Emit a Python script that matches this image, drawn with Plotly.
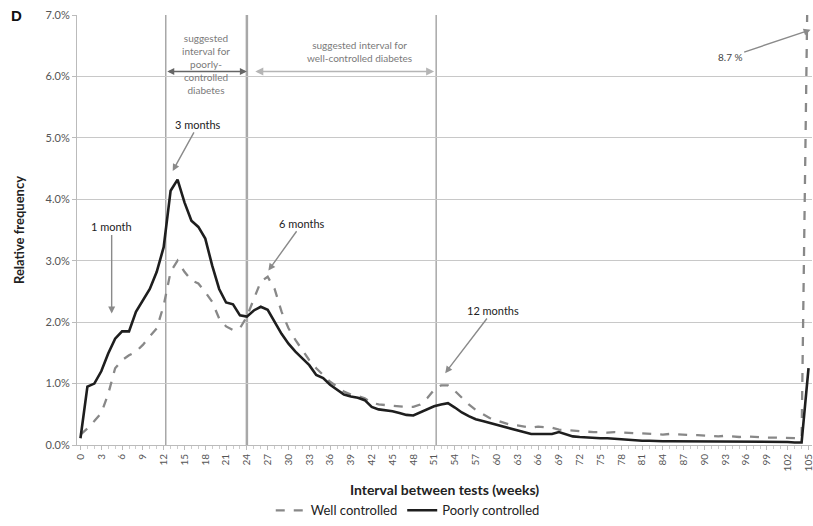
import plotly.graph_objects as go

weeks = list(range(0, 106))
tick_weeks = list(range(0, 106, 3))

well_controlled = [
    0.17, 0.27, 0.39, 0.52, 0.83, 1.25, 1.38, 1.46, 1.52, 1.63,
    1.77, 1.90, 2.27, 2.82, 3.00, 2.82, 2.68, 2.63, 2.49, 2.33,
    2.06, 1.93, 1.87, 1.90, 2.09, 2.38, 2.66, 2.74, 2.54, 2.17,
    1.90, 1.71, 1.54, 1.38, 1.25, 1.14, 1.03, 0.95, 0.87, 0.82,
    0.80, 0.76, 0.69, 0.66, 0.65, 0.64, 0.62, 0.62, 0.62, 0.66,
    0.76, 0.90, 0.97, 0.97, 0.88, 0.77, 0.66, 0.57, 0.50, 0.44,
    0.40, 0.36, 0.33, 0.32, 0.30, 0.28, 0.30, 0.29, 0.28, 0.25,
    0.24, 0.23, 0.22, 0.22, 0.21, 0.21, 0.20, 0.21, 0.20, 0.20,
    0.19, 0.19, 0.18, 0.18, 0.17, 0.18, 0.17, 0.16, 0.16, 0.16,
    0.15, 0.15, 0.14, 0.15, 0.14, 0.13, 0.14, 0.13, 0.13, 0.12,
    0.12, 0.12, 0.11, 0.11, 0.11, 8.70,
]

poorly_controlled = [
    0.11, 0.95, 1.00, 1.20, 1.49, 1.73, 1.85, 1.85, 2.17, 2.35,
    2.54, 2.82, 3.22, 4.14, 4.32, 3.95, 3.65, 3.55, 3.36, 2.92,
    2.54, 2.32, 2.29, 2.11, 2.09, 2.19, 2.25, 2.20, 2.00, 1.81,
    1.65, 1.52, 1.41, 1.30, 1.14, 1.09, 0.98, 0.90, 0.82, 0.79,
    0.77, 0.73, 0.62, 0.58, 0.57, 0.55, 0.52, 0.49, 0.48, 0.53,
    0.59, 0.63, 0.66, 0.68, 0.61, 0.53, 0.47, 0.42, 0.39, 0.36,
    0.32, 0.29, 0.27, 0.23, 0.20, 0.18, 0.18, 0.18, 0.18, 0.21,
    0.17, 0.14, 0.13, 0.12, 0.12, 0.11, 0.11, 0.10, 0.10, 0.09,
    0.07, 0.07, 0.07, 0.06, 0.06, 0.06, 0.06, 0.06, 0.06, 0.06,
    0.06, 0.06, 0.05, 0.06, 0.05, 0.05, 0.05, 0.05, 0.05, 0.05,
    0.05, 0.05, 0.05, 0.04, 0.04, 1.25,
]

y_ticks = [0, 1, 2, 3, 4, 5, 6, 7]
y_tick_labels = ["0.0%", "1.0%", "2.0%", "3.0%", "4.0%", "5.0%", "6.0%", "7.0%"]

FONT = "Lato, 'Open Sans', sans-serif"

fig = go.Figure()
fig.add_trace(go.Scatter(
    x=weeks, y=well_controlled, mode="lines", name="Well controlled",
    line=dict(color="#888888", width=2.3, dash="dash"),
))
fig.add_trace(go.Scatter(
    x=weeks, y=poorly_controlled, mode="lines", name="Poorly controlled",
    line=dict(color="#1e1e1e", width=2.6),
))

# vertical reference lines
for xv, w in [(12.3, 1.5), (24.0, 2.5), (51.3, 1.5)]:
    fig.add_shape(type="line", xref="x", yref="y", x0=xv, x1=xv, y0=0, y1=7,
                  line=dict(color="#a8a8a8", width=w), layer="below")

ann_gray = "#7a7a7a"
annotations = [
    dict(text="<b>D</b>", xref="paper", yref="paper", x=-0.092, y=1.0,
         xanchor="left", yanchor="middle", showarrow=False,
         font=dict(size=15, color="#111", family="Arial, sans-serif")),
    dict(text="suggested<br>interval for<br>poorly-<br>controlled<br>diabetes",
         x=18.1, y=6.21, xref="x", yref="y", showarrow=False,
         font=dict(size=10, color=ann_gray, family=FONT)),
    dict(text="suggested interval for<br>well-controlled diabetes",
         x=40.3, y=6.40, xref="x", yref="y", showarrow=False,
         font=dict(size=10, color=ann_gray, family=FONT)),
    dict(text="", x=24.0, y=6.08, ax=12.3, ay=6.08, xref="x", yref="y",
         axref="x", ayref="y", showarrow=True, arrowhead=2, arrowside="end+start",
         arrowsize=1, arrowwidth=1.4, arrowcolor="#666"),
    dict(text="", x=51.0, y=6.08, ax=25.0, ay=6.08, xref="x", yref="y",
         axref="x", ayref="y", showarrow=True, arrowhead=2, arrowside="end+start",
         arrowsize=1, arrowwidth=1.6, arrowcolor="#b5b5b5"),
    dict(text="3 months", x=13.3, y=4.46, ax=17.0, ay=5.22, xref="x", yref="y",
         axref="x", ayref="y", showarrow=True, arrowhead=2, arrowsize=1,
         arrowwidth=1.4, arrowcolor="#8a8a8a",
         font=dict(size=11, color="#222", family=FONT)),
    dict(text="1 month", x=4.5, y=2.14, ax=4.5, ay=3.55, xref="x", yref="y",
         axref="x", ayref="y", showarrow=True, arrowhead=2, arrowsize=1,
         arrowwidth=1.4, arrowcolor="#8a8a8a",
         font=dict(size=11, color="#222", family=FONT)),
    dict(text="6 months", x=27.1, y=2.84, ax=32.0, ay=3.61, xref="x", yref="y",
         axref="x", ayref="y", showarrow=True, arrowhead=2, arrowsize=1,
         arrowwidth=1.4, arrowcolor="#8a8a8a",
         font=dict(size=11, color="#222", family=FONT)),
    dict(text="12 months", x=52.6, y=1.17, ax=59.5, ay=2.19, xref="x", yref="y",
         axref="x", ayref="y", showarrow=True, arrowhead=2, arrowsize=1,
         arrowwidth=1.4, arrowcolor="#8a8a8a",
         font=dict(size=11, color="#222", family=FONT)),
    dict(text="8.7 %", x=105.3, y=6.76, ax=93.7, ay=6.32, xref="x", yref="y",
         axref="x", ayref="y", showarrow=True, arrowhead=2, arrowsize=1,
         arrowwidth=1.4, arrowcolor="#8a8a8a",
         font=dict(size=10, color="#444", family=FONT)),
]

fig.update_layout(
    width=813, height=526,
    margin=dict(l=77, r=1, t=15, b=79),
    paper_bgcolor="white", plot_bgcolor="white",
    font=dict(family=FONT, color="#333"),
    showlegend=True,
    legend=dict(orientation="h", x=0.45, y=-0.152, xanchor="center", yanchor="middle",
                font=dict(size=13, color="#222"), itemwidth=30, tracegroupgap=0,
                borderwidth=0),
    annotations=annotations,
    xaxis=dict(
        range=[-0.5, 105.5], tickmode="array", tickvals=tick_weeks,
        ticktext=[str(t) for t in tick_weeks], tickangle=-90,
        ticklabeloverflow="allow", automargin=False,
        tickfont=dict(size=10, color="#555"), showgrid=False, zeroline=False,
        showline=True, linecolor="#bbbbbb", linewidth=1,
        ticks="outside", ticklen=4, tickcolor="#bbbbbb",
        minor=dict(dtick=1, ticks="outside", ticklen=3, tickcolor="#cccccc"),
        title=dict(text="<b>Interval between tests (weeks)</b>",
                   font=dict(size=14, color="#222"), standoff=14),
    ),
    yaxis=dict(
        range=[0, 7], tickmode="array", tickvals=y_ticks, ticktext=y_tick_labels,
        automargin=False,
        tickfont=dict(size=11, color="#555"), showgrid=True,
        gridcolor="#c8c8c8", gridwidth=1.2, zeroline=False,
        showline=True, linecolor="#bbbbbb", linewidth=1,
        ticks="outside", ticklen=4, tickcolor="#bbbbbb",
        title=dict(text="<b>Relative frequency</b>",
                   font=dict(size=13, color="#222"), standoff=18),
    ),
)

fig.write_html("out.html")
